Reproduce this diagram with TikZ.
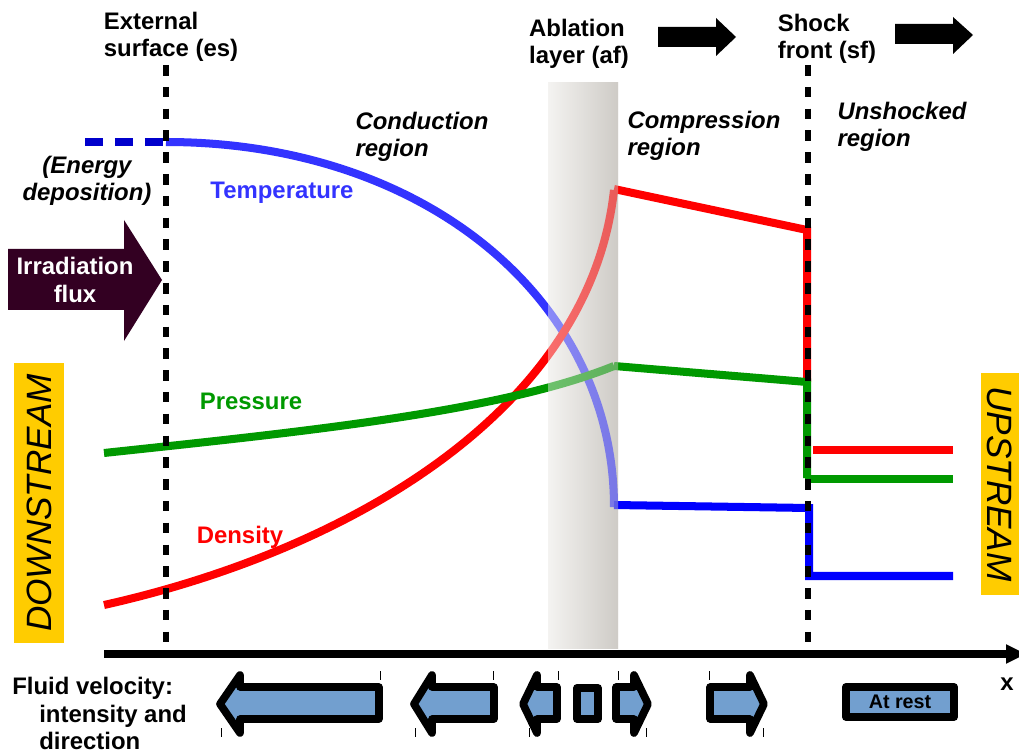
\documentclass[tikz,border=0pt]{standalone}
\usepackage{fontspec}
\setmainfont{Liberation Sans}
\usetikzlibrary{arrows.meta, positioning}

\definecolor{tempblue}{RGB}{51,51,255}
\definecolor{depoblue}{RGB}{0,0,204}
\definecolor{pressgreen}{RGB}{0,153,0}
\definecolor{fluxdark}{RGB}{51,0,34}
\definecolor{velblue}{RGB}{114,159,207}
\definecolor{streamyellow}{RGB}{255,204,0}
\definecolor{layerlight}{RGB}{244,243,241}
\definecolor{layerdark}{RGB}{206,203,198}

\begin{document}
\begin{tikzpicture}[x=0.025cm, y=-0.025cm, font=\fontsize{17}{19.5}\selectfont\bfseries]
\tikzstyle{curve}=[line width=5.7pt]
\tikzstyle{front}=[line width=4pt, dash pattern=on 7.5pt off 8pt]
\tikzstyle{label}=[align=left, inner sep=0pt]
\tikzstyle{region}=[label, font=\fontsize{17}{19.5}\selectfont\bfseries\itshape]
\tikzstyle{velocity}=[draw=black, fill=velblue, line width=5.5pt, line join=round]
\tikzstyle{stream}=[fill=streamyellow, inner sep=0pt, minimum height=1.25cm, font=\fontsize{25}{30}\selectfont\itshape]

\useasboundingbox (0,0) rectangle (1019,754);

% ablation layer
\shade[left color=layerlight, right color=layerdark] (548,83) rectangle (618,648);

% profiles
\draw [curve, depoblue, dash pattern=on 12.8pt off 8.5pt] (85,142) -- (166,142);
\draw [curve, tempblue] (166,142) .. controls (425,142) and (614,300) .. (614,507);
\draw [curve, blue] (614,505) -- (809,508) -- (809,576) -- (953,576);
\draw [curve, red] (104,605) .. controls (350,550) and (590,410) .. (614,190);
\draw [curve, red] (614,189) -- (807,230) -- (807,382);
\draw [curve, red] (813,450) -- (953,450);
\draw [curve, pressgreen] (104,453) .. controls (300,432) and (500,412) .. (614,366);
\draw [curve, pressgreen] (614,366) -- (807,382) -- (807,478);
\draw [curve, pressgreen] (805,479) -- (953,479);

% layer seen over the profiles
\shade[left color=layerlight, right color=layerdark, opacity=0.45] (548,83) rectangle (618,648);

% fronts and axis
\draw [front] (166,65) -- (166,648);
\draw [front] (808,65) -- (808,648);
\draw [line width=5pt, -{Triangle[length=0.5cm, width=0.45cm]}] (104,654) -- (1026,654);
\node (xlabel) at (1007,684) {x};

% fronts moving
\fill (658,27) -- (716,27) -- (716,18) -- (736,37) -- (716,56) -- (716,47) -- (658,47) -- cycle;
\fill (895,24) -- (953,24) -- (953,17) -- (973,35) -- (953,54) -- (953,44) -- (895,44) -- cycle;

% irradiation
\fill [fluxdark] (8,249) -- (124,249) -- (124,220) -- (162,280) -- (124,341) -- (124,310) -- (8,310) -- cycle;
\node (flux) [align=center, white] at (75,280) {Irradiation\\flux};

% labels
\node (es) [label] at (171,37) {External\\surface (es)};
\node (af) [label] at (579,44) {Ablation\\layer (af)};
\node (sf) [label] at (827,39) {Shock\\front (sf)};
\node (conduction) [region] at (422,137) {Conduction\\region};
\node (compression) [region] at (704,136) {Compression\\region};
\node (unshocked) [region] at (902,127) {Unshocked\\region};
\node (deposition) [region, align=center] at (87,181) {(Energy\\deposition)};
\node (temperature) [tempblue, inner sep=0pt] at (282,193) {Temperature};
\node (pressure) [pressgreen, inner sep=0pt] at (251,401) {Pressure};
\node (density) [red, inner sep=0pt] at (240,537) {Density};

\node (downstream) [stream, rotate=90, minimum width=7cm] at (39,503) {DOWNSTREAM};
\node (upstream) [stream, rotate=-90, minimum width=5.55cm, minimum height=0.95cm] at (1000,484) {UPSTREAM};

% fluid velocity
\node (fluid) [label, anchor=north west] at (12,677) {Fluid velocity:\\\hspace*{0.675cm}intensity and\\\hspace*{0.675cm}direction};
\draw [velocity] (220,704) -- (240,675) -- (240,687) -- (379,687) -- (379,719) -- (240,719) -- (240,733) -- cycle;
\draw [velocity] (414,704) -- (432,675) -- (432,687) -- (494,687) -- (494,719) -- (432,719) -- (432,733) -- cycle;
\draw [velocity] (523,704) -- (537,675) -- (537,687) -- (557,687) -- (557,719) -- (537,719) -- (537,733) -- cycle;
\draw [velocity] (577,688) rectangle (598,719);
\draw [velocity] (648,704) -- (634,675) -- (634,687) -- (616,687) -- (616,719) -- (634,719) -- (634,733) -- cycle;
\draw [velocity] (764,704) -- (750,675) -- (750,687) -- (710,687) -- (710,719) -- (750,719) -- (750,733) -- cycle;
\node (rest) [velocity, minimum width=2.7cm, minimum height=0.75cm, inner sep=0pt, font=\fontsize{14}{16}\selectfont\bfseries] at (900,702) {At rest};
\foreach \tx in {380,493,558,618,709}
  \draw [thin] (\tx,671) -- (\tx,680);
\foreach \bx in {221,415,529,646,763}
  \draw [thin] (\bx,728) -- (\bx,737);

\end{tikzpicture}
\end{document}
